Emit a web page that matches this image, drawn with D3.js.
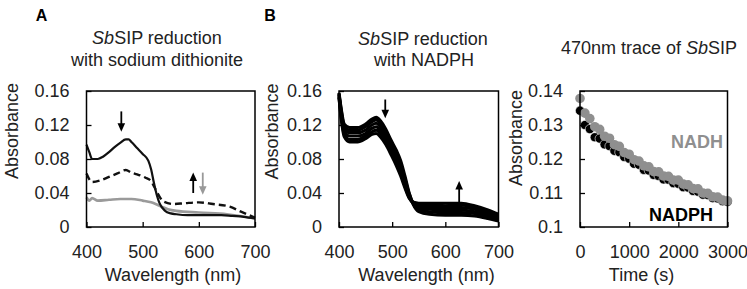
<!DOCTYPE html>
<html>
<head>
<meta charset="utf-8">
<script src="https://cdn.jsdelivr.net/npm/d3@7"></script>
<style>
  body { margin: 0; background: #fff; }
  text { font-family: "Liberation Sans", Arial, sans-serif; }
</style>
</head>
<body>
<svg id="chart" width="747" height="289"></svg>
<script>
// ---- data ----
// Panel A: SbSIP reduction with sodium dithionite
const wlA = [400, 405, 410, 420, 430, 440, 450, 460, 470, 475, 480, 490, 500, 510, 515, 520, 525, 530, 540, 550, 560, 580, 600, 620, 640, 660, 680, 700];
const oxidizedA = [0.097, 0.088, 0.080, 0.080, 0.083, 0.088, 0.094, 0.099, 0.103, 0.103, 0.100, 0.093, 0.086, 0.078, 0.068, 0.052, 0.038, 0.028, 0.019, 0.016, 0.015, 0.014, 0.014, 0.014, 0.014, 0.013, 0.012, 0.010];
const wlDashA = [400, 410, 425, 440, 455, 470, 480, 490, 505, 515, 520, 528, 537, 555, 575, 600, 625, 655, 675, 700];
const partialA = [0.063, 0.053, 0.055, 0.059, 0.063, 0.067, 0.064, 0.062, 0.058, 0.054, 0.048, 0.038, 0.030, 0.027, 0.028, 0.029, 0.027, 0.024, 0.018, 0.011];
const wlGrayA = [400, 405, 410, 420, 440, 460, 480, 500, 515, 530, 545, 560, 600, 650, 700];
const reducedA = [0.035, 0.031, 0.034, 0.031, 0.032, 0.033, 0.033, 0.031, 0.029, 0.025, 0.021, 0.019, 0.017, 0.015, 0.010];

// Panel B: SbSIP reduction with NADPH (successive scans)
const wlB = [400, 404, 410, 420, 435, 450, 462, 470, 478, 488, 498, 508, 516, 524, 532, 540, 550, 570, 600, 630, 655, 680, 700];
const scansB = [
  [0.158, 0.140, 0.121, 0.117, 0.117, 0.121, 0.127, 0.129, 0.125, 0.115, 0.102, 0.090, 0.078, 0.060, 0.040, 0.026, 0.018, 0.015, 0.014, 0.014, 0.013, 0.010, 0.007],
  [0.157, 0.138, 0.118, 0.114, 0.114, 0.118, 0.124, 0.126, 0.122, 0.112, 0.099, 0.087, 0.074, 0.057, 0.039, 0.027, 0.020, 0.018, 0.017, 0.017, 0.016, 0.012, 0.009],
  [0.156, 0.135, 0.115, 0.111, 0.111, 0.114, 0.120, 0.122, 0.118, 0.108, 0.095, 0.083, 0.070, 0.054, 0.037, 0.027, 0.022, 0.021, 0.020, 0.020, 0.018, 0.014, 0.010],
  [0.155, 0.133, 0.112, 0.107, 0.107, 0.110, 0.116, 0.118, 0.114, 0.104, 0.091, 0.079, 0.067, 0.051, 0.036, 0.028, 0.024, 0.023, 0.023, 0.023, 0.021, 0.016, 0.012],
  [0.153, 0.130, 0.109, 0.103, 0.103, 0.107, 0.112, 0.114, 0.110, 0.100, 0.088, 0.075, 0.063, 0.048, 0.035, 0.028, 0.026, 0.026, 0.025, 0.026, 0.023, 0.018, 0.013],
  [0.152, 0.128, 0.106, 0.100, 0.100, 0.104, 0.109, 0.110, 0.106, 0.097, 0.085, 0.072, 0.060, 0.046, 0.034, 0.029, 0.028, 0.028, 0.028, 0.028, 0.025, 0.020, 0.015]
];

// Panel C: 470 nm trace
const timeC = [0, 100, 200, 300, 400, 500, 600, 700, 800, 900, 1000, 1100, 1200, 1300, 1400, 1500, 1600, 1700, 1800, 1900, 2000, 2100, 2200, 2300, 2400, 2500, 2600, 2700, 2800, 2900, 3000];
const nadphC = [0.1342, 0.1300, 0.1288, 0.1264, 0.1260, 0.1243, 0.1238, 0.1224, 0.1220, 0.1206, 0.1201, 0.1186, 0.1183, 0.1168, 0.1166, 0.1153, 0.1150, 0.1140, 0.1139, 0.1129, 0.1127, 0.1117, 0.1116, 0.1106, 0.1104, 0.1095, 0.1094, 0.1085, 0.1084, 0.1076, 0.1074];
const nadhC = [0.1378, 0.1335, 0.1319, 0.1295, 0.1287, 0.1267, 0.1261, 0.1242, 0.1237, 0.1219, 0.1214, 0.1198, 0.1194, 0.1180, 0.1177, 0.1163, 0.1162, 0.1150, 0.1149, 0.1138, 0.1138, 0.1126, 0.1124, 0.1113, 0.1112, 0.1100, 0.1099, 0.1089, 0.1088, 0.1079, 0.1077];

// tick values
const wlTicks = [400, 500, 600, 700];
const absTicks = [0, 0.04, 0.08, 0.12, 0.16];
const timeTicks = [0, 1000, 2000, 3000];
const absTicksC = [0.1, 0.11, 0.12, 0.13, 0.14];

// arrows: [x, yFrom, yTo, color]
const arrowsA = [[462, 0.136, 0.112, "#000"], [590, 0.040, 0.064, "#000"], [607, 0.064, 0.038, "#999"]];
const arrowsB = [[487, 0.150, 0.128, "#000"], [626, 0.028, 0.054, "#000"]];

// ---- drawing ----
const svg = d3.select("#chart");
const plotTop = 91, plotBottom = 227;
const fontSize = 18;

function drawAxes(x, y, xTicks, yTicks, yFmt) {
  const g = svg.append("g");
  g.append("g")
    .attr("transform", `translate(0,${plotBottom})`)
    .call(d3.axisBottom(x).tickValues(xTicks).tickSize(-5).tickSizeOuter(0).tickPadding(18).tickFormat(d3.format("d")))
    .call(a => a.select(".domain").remove());
  g.append("g")
    .attr("transform", `translate(${x.range()[0]},0)`)
    .call(d3.axisLeft(y).tickValues(yTicks).tickSize(-5).tickSizeOuter(0).tickPadding(17).tickFormat(yFmt))
    .call(a => a.select(".domain").remove());
  g.selectAll(".tick line").attr("stroke", "#000").attr("stroke-width", 1.3);
  g.selectAll(".tick text")
    .attr("fill", "#222")
    .style("font-size", fontSize + "px")
    .style("font-family", "'Liberation Sans', Arial, sans-serif");
  g.append("rect")
    .attr("x", x.range()[0])
    .attr("y", plotTop)
    .attr("width", x.range()[1] - x.range()[0])
    .attr("height", plotBottom - plotTop)
    .attr("fill", "none")
    .attr("stroke", "#000")
    .attr("stroke-width", 1.5);
}

function drawArrows(x, y, arrows) {
  arrows.forEach(([ax, y0, y1, color]) => {
    const px = x(ax), py0 = y(y0), py1 = y(y1);
    const dir = py1 > py0 ? 1 : -1;
    svg.append("line")
      .attr("x1", px).attr("x2", px)
      .attr("y1", py0).attr("y2", py1 - dir * 6)
      .attr("stroke", color).attr("stroke-width", 1.8);
    svg.append("path")
      .attr("d", `M${px - 3.8},${py1 - dir * 8.5}L${px + 3.8},${py1 - dir * 8.5}L${px},${py1}Z`)
      .attr("fill", color);
  });
}

function addText(x, y, str, opts = {}) {
  return svg.append("text")
    .attr("x", x).attr("y", y)
    .attr("text-anchor", opts.anchor || "middle")
    .attr("fill", opts.fill || "#222")
    .style("font-size", (opts.size || fontSize) + "px")
    .style("font-weight", opts.weight || "normal");
}

function title(x, y, parts) {
  const t = addText(x, y, "");
  parts.forEach(([s, italic]) => t.append("tspan").style("font-style", italic ? "italic" : "normal").text(s));
}

function yLabel(x, cy) {
  svg.append("text")
    .attr("transform", `translate(${x},${cy}) rotate(-90)`)
    .attr("text-anchor", "middle")
    .attr("fill", "#222")
    .style("font-size", fontSize + "px")
    .text("Absorbance");
}

const fmtAbs = d => d === 0 ? "0" : d3.format(".2f")(d);

// Panel A
const xA = d3.scaleLinear().domain([400, 700]).range([86.5, 255]);
const yA = d3.scaleLinear().domain([0, 0.16]).range([plotBottom, plotTop]);
const lineA = d3.line().x(d => xA(d[0])).y(d => yA(d[1])).curve(d3.curveMonotoneX);

svg.append("path").datum(wlGrayA.map((w, i) => [w, reducedA[i]]))
  .attr("d", lineA).attr("fill", "none").attr("stroke", "#9a9a9a").attr("stroke-width", 2.6);
svg.append("path").datum(wlDashA.map((w, i) => [w, partialA[i]]))
  .attr("d", lineA).attr("fill", "none").attr("stroke", "#111").attr("stroke-width", 2.4)
  .attr("stroke-dasharray", "7,4");
svg.append("path").datum(wlA.map((w, i) => [w, oxidizedA[i]]))
  .attr("d", lineA).attr("fill", "none").attr("stroke", "#111").attr("stroke-width", 2.2);
drawAxes(xA, yA, wlTicks, absTicks, fmtAbs);
drawArrows(xA, yA, arrowsA);

// Panel B
const xB = d3.scaleLinear().domain([400, 700]).range([339, 498.5]);
const yB = d3.scaleLinear().domain([0, 0.16]).range([plotBottom, plotTop]);
const lineB = d3.line().x(d => xB(d[0])).y(d => yB(d[1])).curve(d3.curveMonotoneX);
scansB.forEach(scan => {
  svg.append("path").datum(wlB.map((w, i) => [w, scan[i]]))
    .attr("d", lineB).attr("fill", "none").attr("stroke", "#000").attr("stroke-width", 3.1);
});
drawAxes(xB, yB, wlTicks, absTicks, fmtAbs);
drawArrows(xB, yB, arrowsB);

// Panel C
const xC = d3.scaleLinear().domain([0, 3000]).range([580, 727.5]);
const yC = d3.scaleLinear().domain([0.1, 0.14]).range([plotBottom, plotTop]);
svg.append("g").selectAll("circle")
  .data(timeC.map((t, i) => [t, nadphC[i]]))
  .join("circle")
  .attr("cx", d => xC(d[0])).attr("cy", d => yC(d[1])).attr("r", 4.6)
  .attr("fill", "#000").attr("stroke", "#fff").attr("stroke-width", 0.6);
svg.append("g").selectAll("circle")
  .data(timeC.map((t, i) => [t, nadhC[i]]))
  .join("circle")
  .attr("cx", d => xC(d[0])).attr("cy", d => yC(d[1])).attr("r", 4.8)
  .attr("fill", "#8f8f8f");
drawAxes(xC, yC, timeTicks, absTicksC, d => d === 0.1 ? "0.1" : d3.format(".2f")(d));

addText(723, 148, "", { anchor: "end", weight: "bold", fill: "#8f8f8f" }).text("NADH");
addText(713, 221, "", { anchor: "end", weight: "bold", fill: "#000" }).text("NADPH");

// titles and labels
addText(41.5, 21, "", { weight: "bold", size: 16, fill: "#000" }).text("A");
addText(270, 21, "", { weight: "bold", size: 16, fill: "#000" }).text("B");

title(157, 44, [["Sb", true], ["SIP reduction", false]]);
addText(157, 66, "").text("with sodium dithionite");
title(423, 45, [["Sb", true], ["SIP reduction", false]]);
addText(424, 66, "").text("with NADPH");
title(649, 54, [["470nm trace of ", false], ["Sb", true], ["SIP", false]]);

yLabel(17.5, 131);
yLabel(278, 131.5);
yLabel(521.5, 138);

addText(173, 281, "").text("Wavelength (nm)");
addText(426.5, 281, "").text("Wavelength (nm)");
addText(641.5, 281, "").text("Time (s)");
</script>
</body>
</html>
